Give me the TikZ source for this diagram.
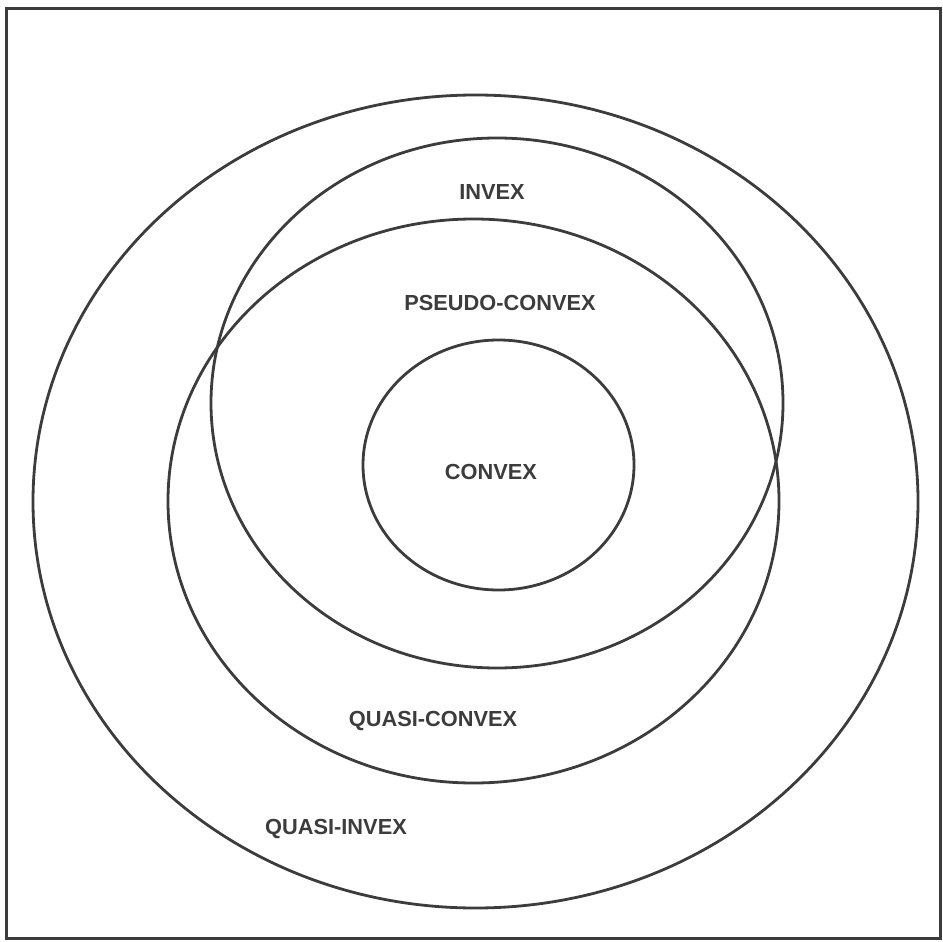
\documentclass[tikz,border=0pt]{standalone}
\usepackage{fontspec}
\setsansfont{Liberation Sans}
\usetikzlibrary{positioning}
\definecolor{ink}{HTML}{3C3C3C}

\begin{document}
\begin{tikzpicture}[x=0.25mm,y=-0.25mm,line width=0.7mm,font=\sffamily\bfseries\fontsize{15.5}{18}\selectfont]
\useasboundingbox (0,0) rectangle (943,942);
\draw[ink,line width=0.75mm] (6,9) rectangle (940,938);
% nested classes
\draw[ink] (475.5,501.5) ellipse [x radius=442.5,y radius=406.5];
\draw[ink] (473.5,501) ellipse [x radius=305.5,y radius=282];
\draw[ink] (497,403) ellipse [x radius=286,y radius=265];
\draw[ink] (498.5,465) ellipse [x radius=135.5,y radius=125];
\node[ink] (invex) at (492,192) {INVEX};
\node[ink] (pseudo) at (500,303) {PSEUDO-CONVEX};
\node[ink] (convex) at (491,472) {CONVEX};
\node[ink] (quasi) at (433,721) {QUASI-CONVEX};
\node[ink] (qinvex) at (336,829) {QUASI-INVEX};
\end{tikzpicture}
\end{document}
